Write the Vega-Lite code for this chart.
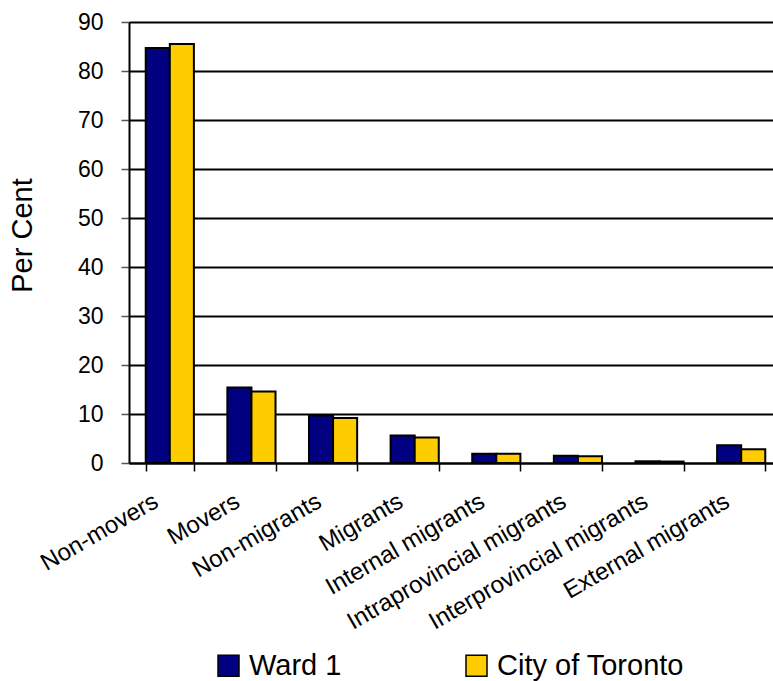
{
  "$schema": "https://vega.github.io/schema/vega-lite/v6.json",
  "autosize": {"type": "none"},
  "padding": {"left": 129, "top": 22, "right": 0, "bottom": 218},
  "width": 644,
  "height": 441,
  "background": "white",
  "data": {
    "values": [
      {"category": "Non-movers", "area": "Ward 1", "percent": 84.7},
      {"category": "Non-movers", "area": "City of Toronto", "percent": 85.5},
      {"category": "Movers", "area": "Ward 1", "percent": 15.4},
      {"category": "Movers", "area": "City of Toronto", "percent": 14.6},
      {"category": "Non-migrants", "area": "Ward 1", "percent": 9.7},
      {"category": "Non-migrants", "area": "City of Toronto", "percent": 9.2},
      {"category": "Migrants", "area": "Ward 1", "percent": 5.6},
      {"category": "Migrants", "area": "City of Toronto", "percent": 5.2},
      {"category": "Internal migrants", "area": "Ward 1", "percent": 1.9},
      {"category": "Internal migrants", "area": "City of Toronto", "percent": 1.9},
      {"category": "Intraprovincial migrants", "area": "Ward 1", "percent": 1.5},
      {"category": "Intraprovincial migrants", "area": "City of Toronto", "percent": 1.4},
      {"category": "Interprovincial migrants", "area": "Ward 1", "percent": 0.35},
      {"category": "Interprovincial migrants", "area": "City of Toronto", "percent": 0.3},
      {"category": "External migrants", "area": "Ward 1", "percent": 3.6},
      {"category": "External migrants", "area": "City of Toronto", "percent": 2.8}
    ]
  },
  "config": {
    "view": {"stroke": null},
    "font": "Liberation Sans",
    "axis": {"labelFont": "Liberation Sans", "titleFont": "Liberation Sans", "labelColor": "black", "titleColor": "black"},
    "legend": {"labelFont": "Liberation Sans", "labelColor": "black"}
  },
  "mark": {"type": "bar", "stroke": "black", "strokeWidth": 2},
  "encoding": {
    "x": {
      "field": "category",
      "type": "nominal",
      "sort": null,
      "scale": {"range": [0, 653], "paddingInner": 0.41, "paddingOuter": 0.205},
      "axis": {
        "title": null,
        "tickBand": "extent",
        "grid": false,
        "domainColor": "black",
        "domainWidth": 2,
        "tickColor": "black",
        "tickWidth": 1.5,
        "tickSize": 8,
        "labelAngle": -30,
        "labelFontSize": 24,
        "labelPadding": 18,
        "labelOffset": -20,
        "labelLimit": 400
      }
    },
    "xOffset": {"field": "area", "type": "nominal", "sort": ["Ward 1", "City of Toronto"]},
    "y": {
      "field": "percent",
      "type": "quantitative",
      "scale": {"domain": [0, 90], "nice": false},
      "axis": {
        "title": "Per Cent",
        "titleFontSize": 29,
        "titleFontWeight": "normal",
        "titleAngle": 270,
        "titleX": -107,
        "titleY": 213,
        "titleAlign": "center",
        "titleBaseline": "middle",
        "values": [0, 10, 20, 30, 40, 50, 60, 70, 80, 90],
        "grid": true,
        "gridColor": "black",
        "gridWidth": 2,
        "gridOpacity": 1,
        "domainColor": "black",
        "domainWidth": 2,
        "tickColor": "#555555",
        "tickWidth": 1.5,
        "tickSize": 8,
        "labelFontSize": 23,
        "labelPadding": 18
      }
    },
    "fill": {
      "field": "area",
      "type": "nominal",
      "scale": {"domain": ["Ward 1", "City of Toronto"], "range": ["#000080", "#FFCC00"]},
      "legend": {
        "title": null,
        "orient": "none",
        "direction": "horizontal",
        "legendX": 85,
        "legendY": 629,
        "symbolType": "square",
        "symbolSize": 441,
        "symbolStrokeColor": "black",
        "symbolStrokeWidth": 1.5,
        "symbolOpacity": 1,
        "labelFontSize": 29,
        "labelOffset": 6,
        "columnPadding": 120,
        "labelLimit": 400
      }
    }
  }
}
